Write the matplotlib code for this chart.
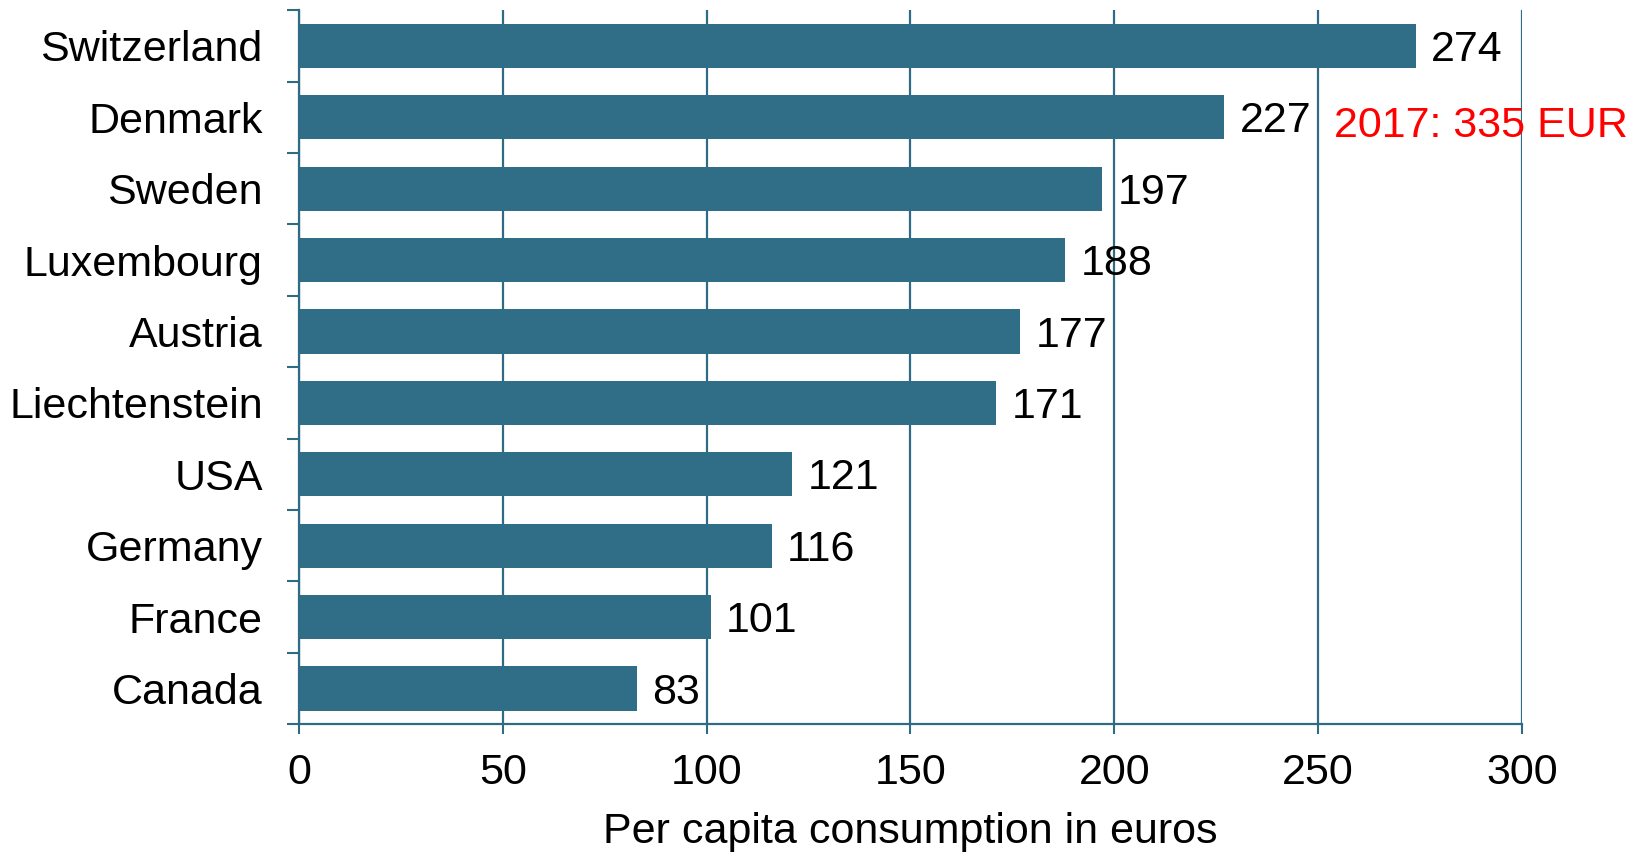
import numpy as np
import matplotlib
matplotlib.use('Agg')
import matplotlib.pyplot as plt

countries = ['Switzerland', 'Denmark', 'Sweden', 'Luxembourg', 'Austria',
             'Liechtenstein', 'USA', 'Germany', 'France', 'Canada']
values = [274, 227, 197, 188, 177, 171, 121, 116, 101, 83]
note_text = '2017: 335 EUR'
note_x = 254
x_ticks = [0, 50, 100, 150, 200, 250, 300]

plt.rcParams['font.family'] = ['Liberation Sans', 'DejaVu Sans']

teal = '#306d87'
line_col = '#2f6b85'
fs = 31

fig = plt.figure(figsize=(16.33, 8.52), dpi=100)
ax = fig.add_axes([0.183, 0.150, 0.749, 0.838])

pos = np.arange(len(countries))
ax.barh(pos, values, height=0.62, color=teal, zorder=3)

for p, v in zip(pos, values):
    ax.annotate(f'{v}', (v, p), xytext=(11, -3), textcoords='offset points',
                ha='left', va='center', fontsize=fs, color='black', zorder=4)

ax.text(note_x, pos[1] + 0.12, note_text, color='red', fontsize=fs,
        ha='left', va='center', zorder=5)

ax.set_xlim(0, 300)
ax.set_ylim(len(countries) - 0.5, -0.5)
ax.set_xticks(x_ticks)
ax.set_yticks(pos)
ax.set_yticklabels(countries)
ax.set_yticks(np.arange(-0.5, len(countries)), minor=True)

ax.tick_params(axis='y', which='major', length=0, pad=26, labelsize=fs)
ax.tick_params(axis='y', which='minor', length=9, width=1.5, color=line_col, direction='out')
ax.tick_params(axis='x', which='major', length=7.5, width=1.5, color=line_col,
               direction='out', pad=13, labelsize=fs)

ax.grid(axis='x', color=line_col, linewidth=1.6, zorder=1)
for s in ['top', 'right']:
    ax.spines[s].set_visible(False)
for s in ['left', 'bottom']:
    ax.spines[s].set_color(line_col)
    ax.spines[s].set_linewidth(1.6)
    ax.spines[s].set_zorder(4)

ax.set_xlabel('Per capita consumption in euros', fontsize=fs, labelpad=14)

fig.savefig('out.png', dpi=100)
